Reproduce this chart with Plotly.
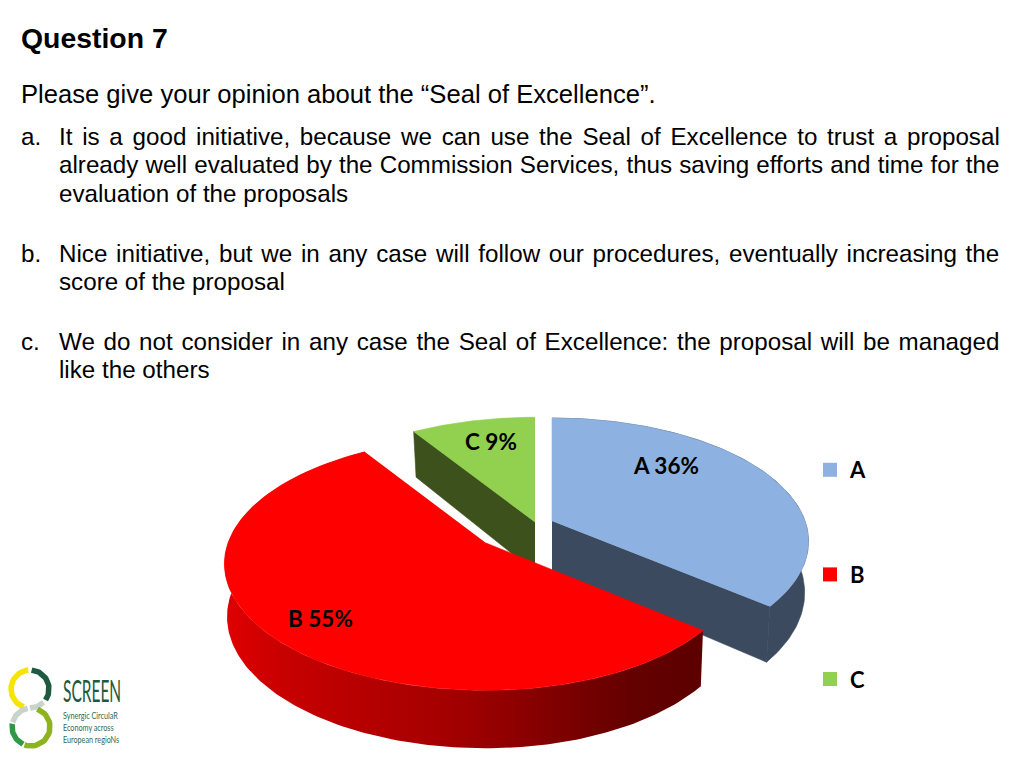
import math
import plotly.graph_objects as go

categories = ["A", "B", "C"]
shares = [36, 55, 9]
top_colours = ["#8DB1E0", "#FF0000", "#92D050"]
wall_colours = ["#3B4A5E", "#A00000", "#3D511C"]

title = "Question 7"
intro = "Please give your opinion about the “Seal of Excellence”."
# (marker, text, y, word spacing px)
body_lines = [
    ("a.", "It is a good initiative, because we can use the Seal of Excellence to trust a proposal", 136.6, 3.0),
    ("", "already well evaluated by the Commission Services, thus saving efforts and time for the", 164.6, 0.4),
    ("", "evaluation of the proposals", 193.6, 0),
    ("b.", "Nice initiative, but we in any case will follow our procedures, eventually increasing the", 253.6, 2.0),
    ("", "score of the proposal", 281.6, 0),
    ("c.", "We do not consider in any case the Seal of Excellence: the proposal will be managed", 341.6, 1.95),
    ("", "like the others", 369.6, 0),
]
logo_name = "SCREEN"
logo_lines = ["Synergic CirculaR", "Economy across", "European regioNs"]

# pie geometry in page pixels: apex x, apex y, radius left, radius right, radius y, rim depth, rim x scale
geom = {"A": (552, 521, 253, 253, 120, 50, 0.985),
        "B": (486, 543, 258, 252, 123, 52, 0.99),
        "C": (535, 522, 258, 258, 122, 50, 0.98)}
label_pos = {"A": (665.5, 465), "B": (320, 618), "C": (491, 441)}
K = 0.165
RY_B = 128


def top(cat, deg):
    ax, ay, rl, rr, ry, _, _ = geom[cat]
    t = math.radians(deg)
    u, v = math.sin(t), -math.cos(t)
    s = 1 / (1 - K * v)
    return ax + (rr if u > 0 else rl) * u * s, ay + ry * v * s


def bottom(cat, deg):
    ax, ay, rl, rr, _, d, f = geom[cat]
    t = math.radians(deg)
    u, v = math.sin(t), -math.cos(t)
    s = 1 / (1 - K * v)
    return ax + f * (rr if u > 0 else rl) * u * s, ay + d + RY_B * v * s


def arc(fn, cat, a, b, n=120):
    pts = [fn(cat, a + (b - a) * i / n) for i in range(n + 1)]
    return [p[0] for p in pts], [p[1] for p in pts]


def poly(x, y, colour, lw=0.6):
    return go.Scatter(x=x, y=y, mode="lines", fill="toself", fillcolor=colour,
                      line=dict(color=colour, width=lw), hoverinfo="skip", showlegend=False)


spans = {}
acc = 0
for c, s in zip(categories, shares):
    spans[c] = (acc * 3.6, (acc + s) * 3.6)
    acc += s

fig = go.Figure()

# slice C
a0, a1 = spans["C"]
p, q = top("C", a0), bottom("C", a0)
ax_c, ay_c, d_c = geom["C"][0], geom["C"][1], geom["C"][5]
fig.add_trace(poly([ax_c, p[0], q[0], ax_c], [ay_c, p[1], q[1], ay_c + d_c], wall_colours[2]))
x, y = arc(top, "C", a0, a1)
fig.add_trace(poly([ax_c] + x, [ay_c] + y, top_colours[2]))

# slice A
a0, a1 = spans["A"]
xt, yt = arc(top, "A", a0, a1)
xb, yb = arc(bottom, "A", a0, a1)
fig.add_trace(poly(xt + xb[::-1], yt + yb[::-1], wall_colours[0]))
p, q = top("A", a1), bottom("A", a1)
ax_a, ay_a, d_a = geom["A"][0], geom["A"][1], geom["A"][5]
fig.add_trace(poly([ax_a, p[0], q[0], ax_a], [ay_a, p[1], q[1], ay_a + d_a], wall_colours[0]))
fig.add_trace(poly([ax_a] + xt, [ay_a] + yt, top_colours[0]))

# slice B with shaded rim
a0, a1 = spans["B"]
xt, yt = arc(top, "B", a0, a1, 200)
xb, yb = arc(bottom, "B", a0, a1, 200)
fig.add_trace(go.Scatter(
    x=xt + xb[::-1], y=yt + yb[::-1], mode="lines", line=dict(width=0), fill="toself",
    fillgradient=dict(type="horizontal", colorscale=[[0, "#E00000"], [0.12, "#C80000"], [0.5, "#A00000"], [0.85, "#640000"], [1, "#5C0000"]]),
    hoverinfo="skip", showlegend=False))
ax_b, ay_b = geom["B"][0], geom["B"][1]
fig.add_trace(poly([ax_b] + xt, [ay_b] + yt, top_colours[1]))

# logo rings
logo_rings = [
    (30, 689, 19, 200, 355, "#F6E500"),
    (30, 689, 19, 5, 125, "#1D5A40"),
    (30, 689, 19, 135, 180, "#C9D3CE"),
    (31, 727, 19, 20, 200, "#8DB31E"),
    (31, 727, 19, 205, 280, "#2E9A48"),
    (31, 727, 19, 285, 350, "#C9D3CE"),
]
for cx, cy, r, d0, d1, col in logo_rings:
    n = 30
    ds = [math.radians(d0 + (d1 - d0) * i / n) for i in range(n + 1)]
    fig.add_trace(go.Scatter(x=[cx + r * math.sin(d) for d in ds], y=[cy - r * math.cos(d) for d in ds],
                             mode="lines", line=dict(color=col, width=5.5), hoverinfo="skip", showlegend=False))

# legend entries
for c, col in zip(categories, top_colours):
    fig.add_trace(go.Scatter(x=[None], y=[None], mode="markers", name=f"<b>{c}</b>", legendgroup=c,
                             marker=dict(symbol="square", size=14, color=col)))

TXT = "Liberation Sans"
ann = []


def text(x, y, s, size, family=TXT, color="#000000", anchor="left"):
    ann.append(dict(x=x, y=y, text=s, xref="x", yref="y", xanchor=anchor, yanchor="middle", showarrow=False,
                    font=dict(family=family, size=size, color=color), align="left", borderpad=0))


text(20, 38, f"<b>{title}</b>", 28.4)
text(20, 94, intro, 25.6)
for mark, line, yy, ws in body_lines:
    if mark:
        text(20, yy, mark, 24.2)
    s = f'<span style="word-spacing:{ws}px">{line}</span>' if ws else line
    text(58, yy, s, 24.2)

for c, s in zip(categories, shares):
    lx, ly = label_pos[c]
    text(lx, ly, f"<b>{c} {s}%</b>", 22.5, family="Lato", anchor="center")

text(62, 690, logo_name, 31, family="Lato", color="#1D5A40")
for yy, line in zip([715, 727, 739], logo_lines):
    text(62, yy, line, 9.5, family="Lato", color="#2F6A50")

fig.update_layout(
    width=1024, height=768, margin=dict(l=0, r=0, t=0, b=0),
    paper_bgcolor="white", plot_bgcolor="white", annotations=ann,
    xaxis=dict(range=[0, 1024], visible=False, fixedrange=True),
    yaxis=dict(range=[768, 0], visible=False, fixedrange=True),
    legend=dict(x=810 / 1024, y=1 - 449 / 768, xanchor="left", yanchor="top", tracegroupgap=73,
                font=dict(family="Lato", size=22, color="#000000"), bgcolor="rgba(0,0,0,0)",
                itemsizing="trace", itemwidth=30),
    showlegend=True,
)
squeeze = """
document.body.style.margin='0';document.body.style.overflow='hidden';
document.querySelectorAll('.annotation-text').forEach(function(t){
  var n=t.textContent, sx=(n==='SCREEN')?0.5:(/CirculaR|Economy across|regioNs/.test(n)?0.76:0);
  if(!sx) return;
  var b=t.getBBox();
  t.setAttribute('transform','translate('+(b.x*(1-sx))+',0) scale('+sx+',1)');
});
"""
fig.write_html("out.html", post_script=squeeze, config={"displayModeBar": False})
